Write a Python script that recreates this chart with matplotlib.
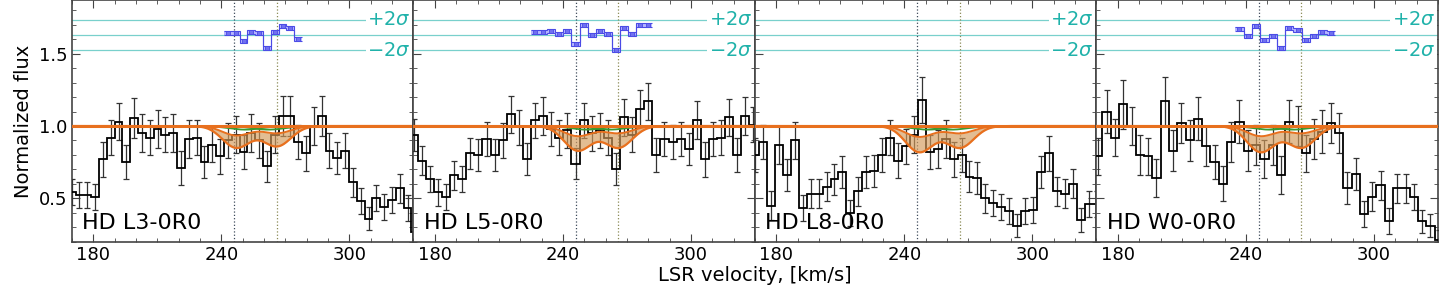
import matplotlib.pyplot as plt
import numpy as np
from matplotlib.ticker import MultipleLocator

# ---- data ----
names = ["HD L3-0R0", "HD L5-0R0", "HD L8-0R0", "HD W0-0R0"]

# centre of the first (partial) bin and bin width per panel, km/s
v_first = [169.84, 170.11, 170.05, 170.86]
v_width = [3.66, 3.79, 3.72, 3.89]

flux_l3 = [0.545, 0.52, 0.52, 0.51, 0.77, 0.92, 1.03, 0.75, 1.055, 0.95,
           0.92, 0.98, 0.94, 0.95, 0.71, 0.91, 0.92, 0.75, 0.87, 0.79,
           0.90, 0.94, 0.82, 0.95, 0.90, 0.72, 0.94, 1.07, 1.07, 0.89,
           0.81, 1.00, 1.07, 0.83, 0.78, 0.83, 0.61, 0.48, 0.36, 0.50,
           0.44, 0.49, 0.57, 0.43, 0.27]
err_l3 = [0.09, 0.09, 0.09, 0.09, 0.12, 0.12, 0.13, 0.12, 0.14, 0.13,
          0.12, 0.13, 0.12, 0.13, 0.12, 0.13, 0.12, 0.11, 0.12, 0.12,
          0.12, 0.13, 0.12, 0.13, 0.12, 0.11, 0.13, 0.14, 0.14, 0.12,
          0.12, 0.13, 0.14, 0.12, 0.11, 0.12, 0.10, 0.09, 0.08, 0.09,
          0.09, 0.09, 0.10, 0.09, 0.08]

flux_l5 = [0.94, 0.76, 0.63, 0.54, 0.51, 0.66, 0.63, 0.81, 0.80, 0.91,
           0.80, 0.90, 1.08, 0.99, 0.77, 1.04, 1.07, 0.98, 0.92, 0.97,
           0.74, 1.04, 0.95, 0.97, 0.92, 0.70, 1.06, 0.94, 1.12, 1.17,
           0.80, 0.91, 0.89, 0.91, 0.84, 1.04, 0.77, 0.91, 0.92, 1.06,
           0.80, 1.07, 1.01]
err_l5 = [0.11, 0.10, 0.09, 0.09, 0.09, 0.10, 0.09, 0.11, 0.11, 0.12,
          0.11, 0.12, 0.13, 0.12, 0.11, 0.12, 0.13, 0.12, 0.12, 0.12,
          0.11, 0.12, 0.12, 0.12, 0.12, 0.11, 0.13, 0.12, 0.13, 0.13,
          0.12, 0.12, 0.12, 0.12, 0.11, 0.13, 0.12, 0.12, 0.12, 0.13,
          0.12, 0.13, 0.12]

flux_l8 = [0.80, 0.89, 0.45, 0.87, 0.66, 0.90, 0.43, 0.53, 0.53, 0.58,
           0.63, 0.68, 0.40, 0.55, 0.68, 0.69, 0.80, 0.92, 0.76, 0.86,
           0.94, 1.18, 0.82, 0.84, 0.91, 0.77, 0.80, 0.65, 0.64, 0.50,
           0.47, 0.44, 0.41, 0.31, 0.41, 0.42, 0.68, 0.81, 0.55, 0.53,
           0.60, 0.35, 0.46, 0.46]
err_l8 = [0.12, 0.12, 0.10, 0.13, 0.11, 0.13, 0.09, 0.10, 0.10, 0.10,
          0.11, 0.11, 0.09, 0.10, 0.11, 0.11, 0.12, 0.12, 0.12, 0.12,
          0.13, 0.16, 0.12, 0.13, 0.13, 0.12, 0.12, 0.11, 0.11, 0.10,
          0.09, 0.09, 0.09, 0.08, 0.09, 0.09, 0.11, 0.12, 0.10, 0.10,
          0.10, 0.08, 0.09, 0.09]

flux_w0 = [0.79, 1.10, 0.92, 1.15, 1.00, 0.80, 0.79, 0.64, 1.17, 0.83,
           1.02, 0.90, 1.05, 0.86, 0.75, 0.60, 0.89, 1.03, 0.83, 0.87,
           0.77, 0.87, 0.66, 1.03, 1.00, 0.81, 0.91, 0.96, 1.02, 0.95,
           0.57, 0.67, 0.39, 0.51, 0.59, 0.34, 0.57, 0.57, 0.51, 0.34,
           0.31, 0.21]
err_w0 = [0.13, 0.15, 0.13, 0.17, 0.13, 0.14, 0.13, 0.13, 0.17, 0.14,
          0.14, 0.14, 0.15, 0.14, 0.12, 0.12, 0.14, 0.15, 0.14, 0.14,
          0.13, 0.14, 0.13, 0.15, 0.14, 0.13, 0.14, 0.15, 0.14, 0.14,
          0.11, 0.11, 0.09, 0.10, 0.10, 0.09, 0.10, 0.10, 0.09, 0.08,
          0.08, 0.07]

fluxes = [flux_l3, flux_l5, flux_l8, flux_w0]
errors = [err_l3, err_l5, err_l8, err_w0]

# residuals (already offset to the sigma band), first bin index per panel
resid_start = [20, 15, None, 17]
resid_vals = [
    [1.645, 1.645, 1.59, 1.65, 1.645, 1.54, 1.65, 1.69, 1.68, 1.60],
    [1.648, 1.648, 1.66, 1.637, 1.655, 1.568, 1.70, 1.63, 1.66, 1.637,
     1.526, 1.68, 1.637, 1.70, 1.70],
    None,
    [1.67, 1.62, 1.69, 1.595, 1.62, 1.54, 1.68, 1.665, 1.595, 1.625,
     1.648, 1.645],
]
sigma_mid = 1.63
sigma_off = 0.105

# absorption components (centre, depth of deep / shallow envelope)
comp_v = [247.0, 266.0]
depth_lo = [[0.15, 0.14], [0.17, 0.15], [0.18, 0.15], [0.18, 0.15]]
depth_hi = [[0.065, 0.05], [0.07, 0.05], [0.075, 0.05], [0.07, 0.05]]
comp_sig = 6.5
green_v = [251.0, 262.0]
green_depth = 0.025
vlines = [246.0, 266.0]

ORANGE = "#e8701e"
FILL = "#d39a5a"
GREEN = "#3a9a32"
TEAL = "#20b2aa"


def profile(v, centres, depths, sig):
    p = np.ones_like(v)
    for c, d in zip(centres, depths):
        p -= d * np.exp(-0.5 * ((v - c) / sig) ** 2)
    return p


fig = plt.figure(figsize=(14.4, 2.88), dpi=100)
axes = fig.subplots(1, 4, sharey=True)
fig.subplots_adjust(left=0.05, right=0.9986, bottom=0.161, top=0.999, wspace=0)

vm = np.linspace(165, 335, 800)

for i, ax in enumerate(axes):
    f = np.array(fluxes[i])
    e = np.array(errors[i])
    v = v_first[i] + v_width[i] * np.arange(len(f))
    edges = np.append(v - v_width[i] / 2, v[-1] + v_width[i] / 2)

    # sigma band for residuals
    for y in (sigma_mid - sigma_off, sigma_mid, sigma_mid + sigma_off):
        ax.axhline(y, color=TEAL, lw=0.9, alpha=0.6, zorder=1)
    ax.text(0.992, sigma_mid + sigma_off, r"$+2\sigma$", transform=ax.get_yaxis_transform(),
            ha="right", va="center", color=TEAL, fontsize=14, zorder=6,
            bbox=dict(facecolor="white", edgecolor="none", pad=1))
    ax.text(0.992, sigma_mid - sigma_off, r"$-2\sigma$", transform=ax.get_yaxis_transform(),
            ha="right", va="center", color=TEAL, fontsize=14, zorder=6,
            bbox=dict(facecolor="white", edgecolor="none", pad=1))

    # velocity markers
    ax.axvline(vlines[0], color="#3d4a5a", ls=":", lw=0.9, zorder=2)
    ax.axvline(vlines[1], color="#8a8a55", ls=":", lw=0.9, zorder=2)

    # data
    ax.stairs(f, edges, baseline=None, color="black", lw=1.3, zorder=4)
    ax.errorbar(v, f, yerr=e, fmt="none", ecolor="#333333", elinewidth=0.9,
                capsize=2, capthick=0.9, zorder=3)

    # model
    lo = profile(vm, comp_v, depth_lo[i], comp_sig)
    hi = profile(vm, comp_v, depth_hi[i], comp_sig)
    ax.fill_between(vm, lo, hi, color=FILL, alpha=0.65, lw=0, zorder=4)
    for gv in green_v:
        ax.plot(vm, profile(vm, [gv], [green_depth], 7.5), color=GREEN, lw=1.3, zorder=5)
    ax.plot(vm, hi, color=ORANGE, lw=1.4, zorder=5)
    ax.plot(vm, lo, color=ORANGE, lw=1.6, zorder=5)
    ax.axhline(1.0, color=ORANGE, lw=2.2, zorder=5)

    # residuals
    if resid_start[i] is not None:
        r = np.array(resid_vals[i])
        s = resid_start[i]
        rv = v[s:s + len(r)]
        redges = np.append(rv - v_width[i] / 2, rv[-1] + v_width[i] / 2)
        ax.stairs(r + 0.014, redges, baseline=r - 0.014, fill=True,
                  color="#7a7aff", alpha=0.55, zorder=5)
        ax.stairs(r + 0.014, redges, baseline=None, color="#4a4ae6", lw=0.8, zorder=6)
        ax.stairs(r - 0.014, redges, baseline=None, color="#4a4ae6", lw=0.8, zorder=6)
        ax.plot(rv, r, "s", ms=3, mfc="#7070f0", mec="#4a4ae6", mew=0.6, zorder=7)

    ax.text(0.03, 0.035, names[i], transform=ax.transAxes, fontsize=16,
            ha="left", va="bottom", zorder=8)

    ax.set_xlim(170, 330)
    ax.set_ylim(0.2, 1.87)
    ax.xaxis.set_major_locator(MultipleLocator(60))
    ax.xaxis.set_minor_locator(MultipleLocator(10))
    ax.yaxis.set_major_locator(MultipleLocator(0.5))
    ax.yaxis.set_minor_locator(MultipleLocator(0.1))
    ax.tick_params(which="both", direction="in", top=True, right=True,
                   labelsize=13, color="#444444")
    ax.tick_params(which="major", length=6)
    ax.tick_params(which="minor", length=3)
    for sp in ax.spines.values():
        sp.set_color("#444444")
        sp.set_linewidth(1.2)

axes[0].set_ylabel("Normalized flux", fontsize=14)
fig.text(0.524, 0.045, "LSR velocity, [km/s]", ha="center", va="center", fontsize=14)

fig.savefig("out.png", dpi=100)
